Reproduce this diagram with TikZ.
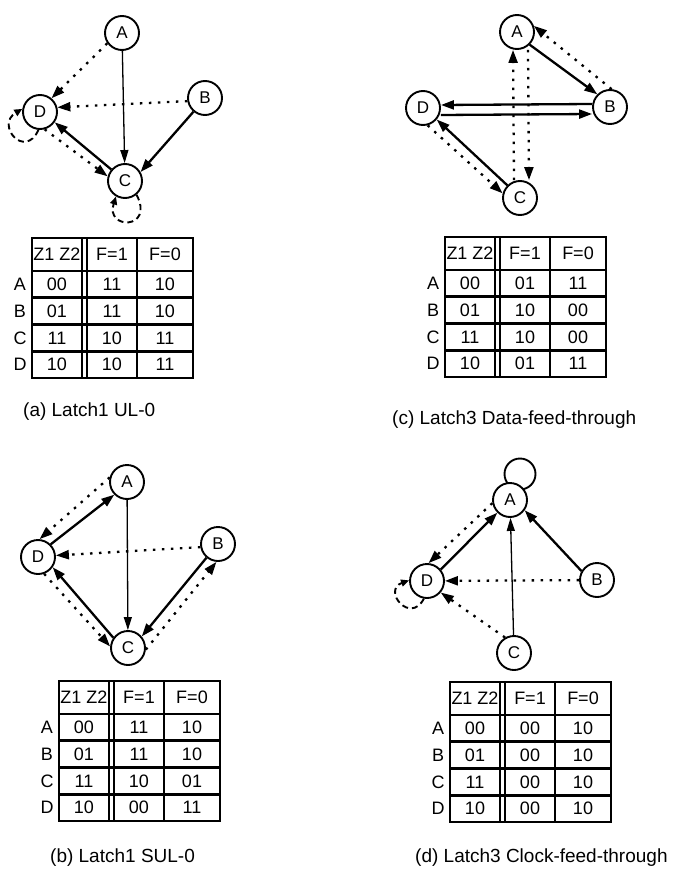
\documentclass[tikz,border=0pt]{standalone}
\usepackage{fontspec}
\setmainfont{Liberation Sans}
\usetikzlibrary{arrows.meta,calc}
\tikzset{
  st/.style={circle, draw, line width=1.9pt, minimum size=34pt, inner sep=0pt, fill=white, font=\fontsize{17}{17}\selectfont},
  solarr/.style={line width=2.3pt, -{Triangle[length=13pt,width=9pt]}},
  thinarr/.style={line width=1.3pt, -{Triangle[length=13pt,width=8pt]}},
  dotarr/.style={line width=2.3pt, dash pattern=on 2.5pt off 6.5pt, -{Triangle[length=13pt,width=9pt]}},
  loopd/.style={line width=1.9pt, dash pattern=on 6pt off 4pt, -{Triangle[length=8pt,width=7pt]}},
  tabout/.style={line width=2.6pt},
  tabin/.style={line width=1.4pt},
  tabtxt/.style={font=\fontsize{18}{18}\selectfont, inner sep=0pt},
  captxt/.style={font=\fontsize{19}{19}\selectfont, anchor=west, inner sep=0pt}
}
\newcommand\ktab[4]{%
\begin{scope}[shift={(#1,#2)}]
  \draw[tabin] (50,0) -- (50,140) (55,0) -- (55,140) (105,0) -- (105,140);
  \draw[tabout] (0,33) -- (161,33) (0,59.75) -- (161,59.75) (0,86.5) -- (161,86.5) (0,113.25) -- (161,113.25);
  \draw[tabout] (0,0) rectangle (161,140);
  \node[tabtxt] (#3h1) at (25,16.5) {Z1 Z2};
  \node[tabtxt] (#3h2) at (80,16.5) {F=1};
  \node[tabtxt] (#3h3) at (133,16.5) {F=0};
  \foreach \l/\z/\p/\q [count=\i] in {#4} {
    \node[tabtxt] (#3\l l) at (-12,{33+(\i-0.5)*26.75}) {\l};
    \node[tabtxt] (#3\l z) at (25,{33+(\i-0.5)*26.75}) {\z};
    \node[tabtxt] (#3\l p) at (80,{33+(\i-0.5)*26.75}) {\p};
    \node[tabtxt] (#3\l q) at (133,{33+(\i-0.5)*26.75}) {\q};
  }
\end{scope}}
\begin{document}
\begin{tikzpicture}[x=1pt,y=-1pt]
\useasboundingbox (0,0) rectangle (696,869);
\fill[white] (0,0) rectangle (696,869);

% ---------- panel (a)
\node[st] (aA) at (122,33) {A};
\node[st] (aB) at (205,98) {B};
\node[st] (aD) at (40,112) {D};
\node[st] (aC) at (125,181) {C};
\draw[thinarr] (aA) -- (aC);
\draw[solarr] (aB.230) -- (aC.30);
\draw[solarr] (aC.140) -- (aD.-35);
\draw[dotarr] (aD.-75) -- (aC.165);
\draw[dotarr] (aA.215) -- (aD.50);
\draw[dotarr] (aB.190) -- (aD.15);
\draw[loopd] (aD.265) .. controls (25,160) and (-5,125) .. (aD.170);
\draw[loopd] (aC.-50) .. controls (155,230) and (105,230) .. (aC.240);
\ktab{32}{238}{ta}{A/00/11/10, B/01/11/10, C/11/10/11, D/10/10/11}
\node[captxt] (capa) at (23,412) {(a) Latch1 UL-0};

% ---------- panel (c)
\node[st] (cA) at (517,32) {A};
\node[st] (cB) at (610,107) {B};
\node[st] (cD) at (423,108) {D};
\node[st] (cC) at (520,198) {C};
\draw[solarr] (cA.-45) -- (cB.135);
\draw[dotarr] (cB.85) -- (cA.20);
\draw[solarr] ([yshift=3pt]cB.west) -- ([yshift=3pt]cD.east);
\draw[solarr] ([yshift=-7pt]cD.east) -- ([yshift=-7pt]cB.west);
\draw[dotarr] ([xshift=-6pt]cC.north) -- ([xshift=-4pt]cA.south);
\draw[dotarr] ([xshift=11pt]cA.south) -- ([xshift=9pt]cC.north);
\draw[solarr] (cC.135) -- (cD.-40);
\draw[dotarr] (cD.-75) -- (cC.165);
\ktab{445}{237}{tc}{A/00/01/11, B/01/10/00, C/11/10/00, D/10/01/11}
\node[captxt] (capc) at (392,420) {(c) Latch3 Data-feed-through};

% ---------- panel (b)
\node[st] (bA) at (127,482) {A};
\node[st] (bB) at (218,544) {B};
\node[st] (bD) at (38,557) {D};
\node[st] (bC) at (128,648) {C};
\draw[solarr] (bD.45) -- (bA.225);
\draw[dotarr] (bA.165) -- (bD.85);
\draw[thinarr] (bA) -- (bC);
\draw[dotarr] (bB.190) -- (bD.5);
\draw[solarr] (bC.145) -- (bD.-35);
\draw[dotarr] (bD.-70) -- (bC.175);
\draw[solarr] (bB.230) -- (bC.40);
\draw[dotarr] (bC.-5) -- (bB.-95);
\ktab{59}{681}{tb}{A/00/11/10, B/01/11/10, C/11/10/01, D/10/00/11}
\node[captxt] (capb) at (50,858) {(b) Latch1 SUL-0};

% ---------- panel (d)
\node[circle, draw, line width=1.9pt, minimum size=31pt, inner sep=0pt] (dL) at (520,474) {};
\node[st] (dA) at (510,500) {A};
\node[st] (dB) at (597,580) {B};
\node[st] (dD) at (427,581) {D};
\node[st] (dC) at (514,653) {C};
\draw[solarr] (dD.40) -- (dA.225);
\draw[dotarr] (dA.190) -- (dD.85);
\draw[solarr] (dB.150) -- (dA.-35);
\draw[thinarr] (dC) -- (dA);
\draw[dotarr] (dB) -- (dD);
\draw[dotarr] (dC.120) -- (dD.-40);
\draw[loopd] (dD.260) .. controls (410,625) and (382,590) .. (dD.178);
\ktab{450}{682}{td}{A/00/00/10, B/01/00/10, C/11/00/10, D/10/00/10}
\node[captxt] (capd) at (415,858) {(d) Latch3 Clock-feed-through};
\end{tikzpicture}
\end{document}
